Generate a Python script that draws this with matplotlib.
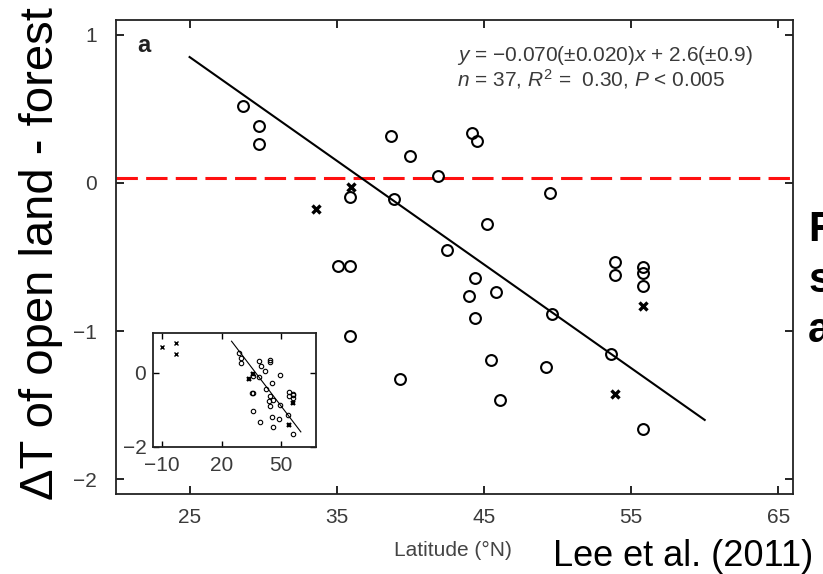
import matplotlib
matplotlib.use("Agg")
import matplotlib.pyplot as plt
import numpy as np

plt.rcParams['font.family'] = ['Liberation Sans', 'DejaVu Sans']
plt.rcParams['mathtext.fontset'] = 'custom'
plt.rcParams['mathtext.rm'] = 'Liberation Sans'
plt.rcParams['mathtext.it'] = 'Liberation Sans:italic'

# ---- data (latitude, temperature difference) ----
circle_lat = [28.6, 29.7, 29.7, 38.7, 40.0, 44.2, 44.5, 41.9, 49.5, 35.9, 38.9,
              45.2, 42.5, 35.1, 35.9, 53.9, 53.9, 55.8, 55.8, 55.8, 44.4, 44.0,
              45.8, 44.4, 49.6, 35.9, 53.6, 45.5, 49.2, 39.3, 46.1, 55.8]
circle_dT = [0.52, 0.385, 0.265, 0.32, 0.18, 0.34, 0.28, 0.047, -0.07, -0.094, -0.11,
             -0.274, -0.452, -0.562, -0.562, -0.533, -0.619, -0.569, -0.605, -0.697,
             -0.643, -0.760, -0.736, -0.913, -0.882, -1.035, -1.154, -1.192, -1.242,
             -1.325, -1.467, -1.658]
cross_lat = [33.6, 36.0, 55.8, 53.9]
cross_dT = [-0.173, -0.027, -0.832, -1.426]
tropic_lat = [-10.3, -3.1, -3.1]
tropic_dT = [0.70, 0.79, 0.51]

slope, intercept = -0.070, 2.6
fit_range = [25, 60]
ref_level = 0.03

xticks = [25, 35, 45, 55, 65]
yticks = [-2, -1, 0, 1]
inset_xticks = [-10, 20, 50]
inset_yticks = [-2, 0]

text_col = '#3a3a3a'
MINUS = '\u2212'
PM = '\u00b1'

fig = plt.figure(figsize=(8.23, 5.74), dpi=100)
ax = fig.add_axes([116/823, 1-494/574, (793-116)/823, (494-20)/574])

fx = np.array(fit_range)
ax.plot(fx, slope*fx + intercept, color='black', lw=1.5, zorder=3)
ax.axhline(ref_level, color='#ff1010', lw=2.2, dashes=(7, 2.7), zorder=2)
ax.plot(circle_lat, circle_dT, 'o', mfc='none', mec='black', ms=7.8, mew=1.5, zorder=4)
ax.plot(cross_lat, cross_dT, 'x', color='black', ms=6, mew=2.4, zorder=4)

ax.set_xlim(20, 66)
ax.set_ylim(-2.1, 1.1)
ax.set_xticks(xticks)
ax.set_yticks(yticks)
ax.set_yticklabels([MINUS + '2', MINUS + '1', '0', '1'])
ax.tick_params(direction='in', length=6, width=1.2, top=True, right=True,
               labelsize=15, labelcolor=text_col, pad=10)
ax.tick_params(axis='y', pad=14)
for s in ax.spines.values():
    s.set_linewidth(1.3)
    s.set_color('#222222')
ax.set_xlabel('Latitude (\u00b0N)', fontsize=15, color='#444444')
ax.xaxis.set_label_coords((453-116)/(793-116), -0.10)

fig.text(137/823, 1-52/574, 'a', fontsize=17,
         fontweight='bold', color='#222222', va='baseline', ha='left')
eq1 = '$y$ = ' + MINUS + '0.070(' + PM + '0.020)$x$ + 2.6(' + PM + '0.9)'
eq2 = '$n$ = 37, $R^2$ =  0.30, $P$ < 0.005'
fig.text(457/823, 1-61/574, eq1, fontsize=15, color=text_col, va='baseline', ha='left')
fig.text(457/823, 1-86/574, eq2, fontsize=15, color=text_col, va='baseline', ha='left')

# ---- inset ----
ins = fig.add_axes([153.3/823, 1-446.7/574, 163/823, 114/574])
ins.plot(fx, slope*fx + intercept, color='black', lw=0.8, zorder=3)
ins.plot(circle_lat, circle_dT, 'o', mfc='none', mec='black', ms=3.2, mew=0.8)
ins.plot(cross_lat, cross_dT, 'x', color='black', ms=3.5, mew=1.6)
ins.plot(tropic_lat, tropic_dT, 'x', color='black', ms=2.6, mew=1.0)
ins.set_xlim(-14.5, 67.8)
ins.set_ylim(-2.0, 1.08)
ins.set_xticks(inset_xticks)
ins.set_xticklabels([MINUS + '10', '20', '50'])
ins.set_yticks(inset_yticks)
ins.set_yticklabels([MINUS + '2', '0'])
ins.tick_params(direction='in', length=4, width=1.0, top=True, right=True,
                labelsize=15, labelcolor=text_col, pad=5)
ins.tick_params(axis='x', pad=7)
for s in ins.spines.values():
    s.set_linewidth(1.3)
    s.set_color('#222222')

# ---- slide text ----
fig.text(41/823, 1-254/574, '\u0394T of open land - forest', rotation=90,
         fontsize=34, ha='center', va='center', color='black')
fig.text(553/823, 1-566/574, 'Lee et al. (2011)', fontsize=26, ha='left',
         va='baseline', color='black')
for ch, yb in zip(['F', 's', 'a'], [241, 292, 342]):
    fig.text(808/823, 1-yb/574, ch, fontsize=30, fontweight='bold',
             ha='left', va='baseline', color='black')

fig.savefig('out.png', dpi=100)
